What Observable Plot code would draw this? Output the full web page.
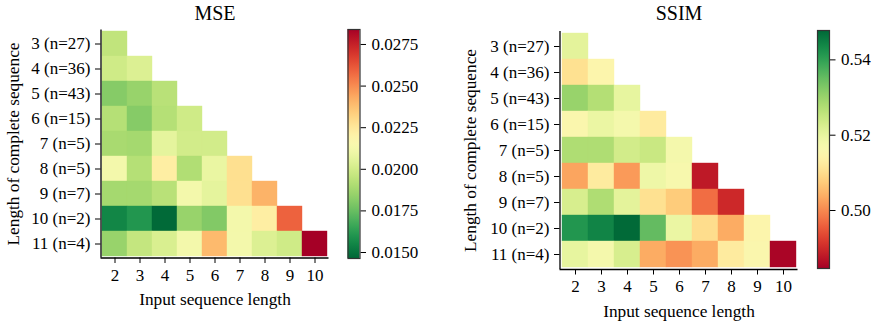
<!DOCTYPE html>
<html>
<head>
<meta charset="utf-8">
<script src="https://cdn.jsdelivr.net/npm/d3@7"></script>
<script src="https://cdn.jsdelivr.net/npm/@observablehq/plot@0.6"></script>
<style>
  html, body { margin: 0; padding: 0; background: #fff; }
  #fig { position: relative; width: 877px; height: 324px; background: #fff; }
  #fig svg { position: absolute; left: 0; top: 0; overflow: visible; background: transparent !important; }
  #fig svg, #fig svg text { font-family: 'Liberation Serif', 'Times New Roman', serif !important; }
</style>
</head>
<body>
<div id="fig"></div>
<script>
// ---- data ----
const inputLengths = [2, 3, 4, 5, 6, 7, 8, 9, 10];
const completeLengths = [3, 4, 5, 6, 7, 8, 9, 10, 11];
const completeLabels = ["3 (n=27)", "4 (n=36)", "5 (n=43)", "6 (n=15)", "7 (n=5)", "8 (n=5)", "9 (n=7)", "10 (n=2)", "11 (n=4)"];

// MSE rows (row = complete length, columns = input length 2..)
const mse3  = [0.0195];
const mse4  = [0.0199, 0.0203];
const mse5  = [0.0181, 0.0185, 0.0193];
const mse6  = [0.0192, 0.0181, 0.0192, 0.0199];
const mse7  = [0.0189, 0.0188, 0.0206, 0.0200, 0.0200];
const mse8  = [0.0212, 0.0192, 0.0222, 0.0191, 0.0208, 0.0228];
const mse9  = [0.0188, 0.0188, 0.0193, 0.0212, 0.0206, 0.0228, 0.0241];
const mse10 = [0.0155, 0.0160, 0.0147, 0.0185, 0.0180, 0.0212, 0.0222, 0.0259];
const mse11 = [0.0185, 0.0196, 0.0202, 0.0212, 0.0239, 0.0212, 0.0203, 0.0199, 0.0284];

// SSIM rows
const ssim3  = [0.5206];
const ssim4  = [0.5105, 0.5149];
const ssim5  = [0.5301, 0.5270, 0.5200];
const ssim6  = [0.5156, 0.5194, 0.5175, 0.5124];
const ssim7  = [0.5276, 0.5276, 0.5232, 0.5244, 0.5175];
const ssim8  = [0.5029, 0.5124, 0.5017, 0.5187, 0.5168, 0.4878];
const ssim9  = [0.5225, 0.5276, 0.5206, 0.5105, 0.5074, 0.4972, 0.4897];
const ssim10 = [0.5415, 0.5440, 0.5475, 0.5352, 0.5194, 0.5099, 0.5036, 0.5149];
const ssim11 = [0.5200, 0.5175, 0.5225, 0.5036, 0.5010, 0.5036, 0.5124, 0.5156, 0.4852];

const mseDomain = [0.01464, 0.0284];
const mseTicks = [0.0150, 0.0175, 0.0200, 0.0225, 0.0250, 0.0275];
const ssimDomain = [0.4846, 0.5478];
const ssimTicks = [0.50, 0.52, 0.54];

// ---- build tables ----
function table(rows) {
  return rows.flatMap((row, i) => row.map((v, j) => ({
    input: inputLengths[j],
    complete: completeLabels[i],
    value: v
  })));
}
const mseData = table([mse3, mse4, mse5, mse6, mse7, mse8, mse9, mse10, mse11]);
const ssimData = table([ssim3, ssim4, ssim5, ssim6, ssim7, ssim8, ssim9, ssim10, ssim11]);

const W = 877, H = 324;
const fig = document.getElementById("fig");

function heatmap({data, title, frame, colorOpts, xLabelBase, yLabelX}) {
  const [l, t, r, b] = frame;
  const margins = {marginLeft: l, marginTop: t, marginRight: W - r, marginBottom: H - b};
  const hm = Plot.plot({
    width: W, height: H, ...margins,
    style: {fontSize: "17px", color: "#000"},
    x: {type: "band", domain: inputLengths, padding: 0, tickSize: 5.5, tickPadding: 5, label: null},
    y: {type: "band", domain: completeLabels, padding: 0, tickSize: 5.5, tickPadding: 5, label: null},
    color: colorOpts,
    marks: [
      Plot.cell(data, {x: "input", y: "complete", fill: "value", stroke: "value", strokeWidth: 0.4, inset: 0}),
      Plot.text([title], {frameAnchor: "top", textAnchor: "middle", lineAnchor: "bottom", dy: -(t - 19), fontSize: 20, fill: "#000"}),
      Plot.text(["Input sequence length"], {frameAnchor: "bottom", textAnchor: "middle", lineAnchor: "bottom", dy: xLabelBase - b, fontSize: 17.3, fill: "#000"}),
      Plot.text(["Length of complete sequence"], {frameAnchor: "left", textAnchor: "middle", rotate: -90, lineAnchor: "bottom", dx: yLabelX - l, fontSize: 17.3, fill: "#000"})
    ]
  });
  fig.appendChild(hm);
  // spines (left and bottom) drawn through a linear overlay
  const sp = Plot.plot({
    width: W, height: H, ...margins,
    x: {domain: [0, 1], axis: null},
    y: {domain: [0, 1], axis: null},
    marks: [
      Plot.ruleX([0], {stroke: "#000", strokeWidth: 1.3}),
      Plot.ruleY([0], {stroke: "#000", strokeWidth: 1.3})
    ]
  });
  fig.appendChild(sp);
}

function colorbar({id, frame, domain, ticks, fmt, colorOpts}) {
  const [l, t, r, b] = frame;
  const scale = Plot.scale({color: colorOpts});
  const cb = Plot.plot({
    width: W, height: H,
    marginLeft: l, marginTop: t, marginRight: W - r, marginBottom: H - b,
    style: {fontSize: "17px", color: "#000"},
    x: {domain: [0, 1], axis: null},
    y: {domain, axis: "right", ticks, tickFormat: fmt, tickSize: 5.5, tickPadding: 6, label: null},
    marks: [
      Plot.rect([domain], {x1: 0, x2: 1, y1: d => d[0], y2: d => d[1], fill: `url(#${id})`}),
      Plot.frame({stroke: "#333", strokeWidth: 1.2})
    ]
  });
  // gradient stops sampled from the same color scale
  const ns = "http://www.w3.org/2000/svg";
  const defs = document.createElementNS(ns, "defs");
  const grad = document.createElementNS(ns, "linearGradient");
  grad.setAttribute("id", id);
  grad.setAttribute("x1", "0"); grad.setAttribute("y1", "1");
  grad.setAttribute("x2", "0"); grad.setAttribute("y2", "0");
  const n = 64;
  for (let i = 0; i <= n; i++) {
    const v = domain[0] + (domain[1] - domain[0]) * i / n;
    const s = document.createElementNS(ns, "stop");
    s.setAttribute("offset", (i / n).toString());
    s.setAttribute("stop-color", scale.apply(v));
    grad.appendChild(s);
  }
  defs.appendChild(grad);
  cb.insertBefore(defs, cb.firstChild);
  fig.appendChild(cb);
}

const mseColor = {type: "linear", scheme: "RdYlGn", reverse: true, domain: mseDomain};
const ssimColor = {type: "linear", scheme: "RdYlGn", domain: ssimDomain};

heatmap({data: mseData, title: "MSE", frame: [100.5, 29.5, 328.5, 257.5], colorOpts: mseColor, xLabelBase: 304, yLabelX: 18.5});
colorbar({id: "gradMSE", frame: [347.5, 29, 359.5, 258], domain: mseDomain, ticks: mseTicks, fmt: d3.format(".4f"), colorOpts: mseColor});

heatmap({data: ssimData, title: "SSIM", frame: [559.5, 31, 797.5, 269], colorOpts: ssimColor, xLabelBase: 316, yLabelX: 475});
colorbar({id: "gradSSIM", frame: [817, 30, 829, 268], domain: ssimDomain, ticks: ssimTicks, fmt: d3.format(".2f"), colorOpts: ssimColor});
</script>
</body>
</html>
